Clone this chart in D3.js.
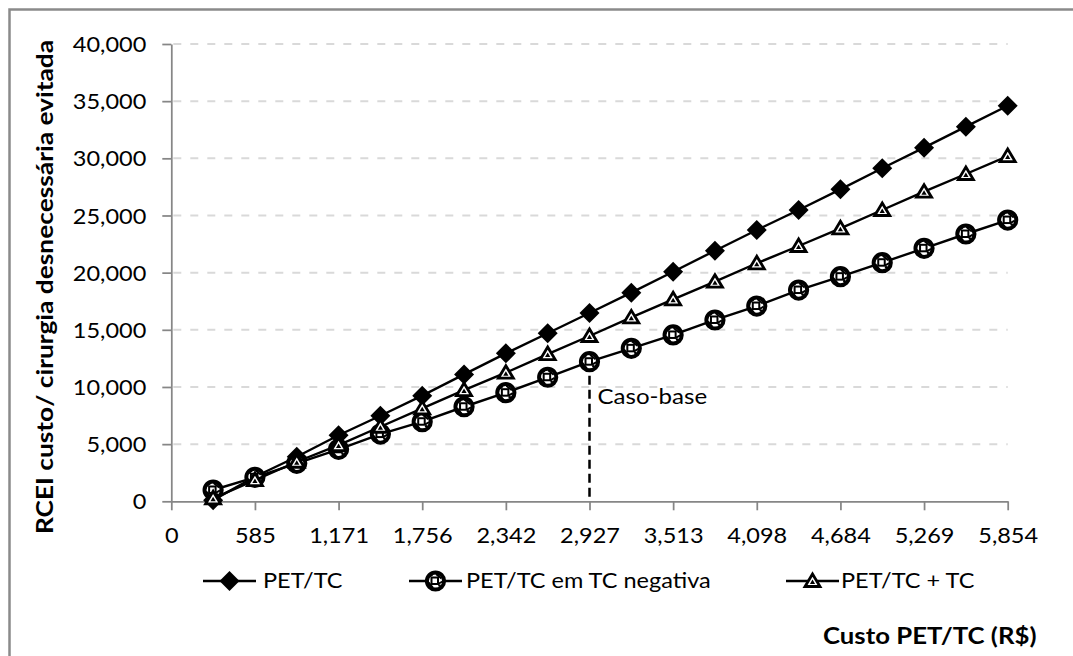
<!DOCTYPE html>
<html>
<head>
<meta charset="utf-8">
<script src="https://cdn.jsdelivr.net/npm/d3@7"></script>
<style>
  html, body { margin: 0; padding: 0; background: #fff; }
  svg { display: block; }
  text { font-family: Lato, "Open Sans", sans-serif; fill: #000; }
</style>
</head>
<body>
<svg id="chart" width="1073" height="656"></svg>
<script>
// Custo do PET/TC (R$) por ponto da análise de sensibilidade
const custos = [292.7, 585.4, 878.1, 1170.8, 1463.5, 1756.2, 2048.9, 2341.6, 2634.3, 2927,
                3219.7, 3512.4, 3805.1, 4097.8, 4390.5, 4683.2, 4975.9, 5268.6, 5561.3, 5854];

// RCEI custo / cirurgia desnecessária evitada
const petTc = [100, 2150, 3900, 5780, 7480, 9240, 11100, 12940, 14700, 16470,
               18250, 20080, 21920, 23730, 25480, 27290, 29130, 30930, 32770, 34600];
const petTcNegativa = [990, 2100, 3320, 4550, 5880, 6960, 8270, 9500, 10850, 12210,
                       13380, 14550, 15860, 17080, 18480, 19650, 20870, 22130, 23380, 24600];
const petTcMaisTc = [260, 1860, 3460, 4920, 6520, 8130, 9730, 11250, 12880, 14460,
                     16090, 17670, 19210, 20820, 22330, 23880, 25480, 27080, 28630, 30200];

const seriesNames = ["PET/TC", "PET/TC em TC negativa", "PET/TC + TC"];

const xTickValues = [0, 585.4, 1170.8, 1756.2, 2341.6, 2927, 3512.4, 4097.8, 4683.2, 5268.6, 5854];
const xTickLabels = ["0", "585", "1,171", "1,756", "2,342", "2,927", "3,513", "4,098", "4,684", "5,269", "5,854"];
const yTickValues = [0, 5000, 10000, 15000, 20000, 25000, 30000, 35000, 40000];

const casoBaseCusto = 2927;
const casoBaseIndex = custos.indexOf(casoBaseCusto);

const svg = d3.select("#chart");
const STRETCH = 1.12;

// widen glyphs horizontally around each text's own anchor x
function stretch(sel) {
  sel.each(function () {
    const t = d3.select(this);
    const x = +t.attr("x") || 0;
    t.attr("transform", `translate(${x},0) scale(${STRETCH},1) translate(${-x},0)`);
  });
}

// outer chart border (only left and top edges fall inside the frame)
svg.append("rect")
  .attr("x", 9.5).attr("y", 9.5)
  .attr("width", 1200).attr("height", 800)
  .attr("fill", "none").attr("stroke", "#8a8a8a").attr("stroke-width", 2.5);

const plot = { left: 171.3, right: 1007.7, top: 44, bottom: 501.3 };

const x = d3.scaleLinear().domain([0, 5854]).range([plot.left, plot.right]);
const y = d3.scaleLinear().domain([0, 40000]).range([plot.bottom, plot.top]);

// horizontal dashed gridlines
svg.append("g")
  .selectAll("line")
  .data(yTickValues.filter(v => v > 0))
  .join("line")
  .attr("x1", plot.left + 2).attr("x2", plot.right)
  .attr("y1", d => y(d)).attr("y2", d => y(d))
  .attr("stroke", "#d9d9d9").attr("stroke-width", 2)
  .attr("stroke-dasharray", "8,9");

// y axis
const yAxis = svg.append("g")
  .attr("transform", `translate(${plot.left},0)`)
  .call(d3.axisLeft(y).tickValues(yTickValues).tickSize(9).tickSizeOuter(0).tickPadding(16)
    .tickFormat(d3.format(",")));
yAxis.select(".domain").attr("stroke", "#868686").attr("stroke-width", 1.75);
yAxis.selectAll(".tick line").attr("stroke", "#868686").attr("stroke-width", 1.75);
yAxis.selectAll(".tick text")
  .attr("font-family", "Lato").attr("font-size", 21).attr("fill", "#000").attr("dy", "0.36em")
  .call(stretch);

// x axis
const xAxis = svg.append("g")
  .attr("transform", `translate(0,${plot.bottom})`)
  .call(d3.axisBottom(x).tickValues(xTickValues).tickSize(9).tickSizeOuter(0)
    .tickFormat((d, i) => xTickLabels[i]));
xAxis.select(".domain").attr("stroke", "#868686").attr("stroke-width", 1.75);
xAxis.selectAll(".tick line").attr("stroke", "#868686").attr("stroke-width", 1.75);
xAxis.selectAll(".tick text")
  .attr("font-family", "Lato").attr("font-size", 21).attr("fill", "#000")
  .attr("y", 42).attr("dy", 0)
  .call(stretch);

// base-case drop line
svg.append("line")
  .attr("x1", x(casoBaseCusto)).attr("x2", x(casoBaseCusto))
  .attr("y1", y(petTcNegativa[casoBaseIndex])).attr("y2", plot.bottom - 4)
  .attr("stroke", "#000").attr("stroke-width", 2.5)
  .attr("stroke-dasharray", "9,5");

svg.append("text")
  .attr("x", x(casoBaseCusto) + 8).attr("y", 404)
  .attr("font-size", 21.5)
  .text("Caso-base")
  .call(stretch);

// marker painters
function diamond(g) {
  g.append("path").attr("d", "M0,-10L10,0L0,10L-10,0Z").attr("fill", "#000");
}
function patternCircle(g) {
  g.append("circle").attr("r", 8.6).attr("fill", "#fff").attr("stroke", "#000").attr("stroke-width", 4);
  g.append("rect").attr("x", -4).attr("y", -3.5).attr("width", 6.5).attr("height", 6.5)
    .attr("fill", "none").attr("stroke", "#000").attr("stroke-width", 2);
  g.append("path").attr("d", "M0.5,-7L6,-2.5M-7,1.5L-2.5,7M2.5,3L7,0.5M-6.5,-4L-3,-6.5")
    .attr("stroke", "#000").attr("stroke-width", 2);
  g.append("circle").attr("cx", 4).attr("cy", 4.5).attr("r", 1.3).attr("fill", "#000");
}
function triangle(g) {
  g.append("path").attr("d", "M0,-7L7.5,5.5L-7.5,5.5Z")
    .attr("fill", "#fff").attr("stroke", "#000").attr("stroke-width", 2.8).attr("stroke-linejoin", "miter");
  g.append("path").attr("d", "M0,-1.5L2.6,3L-2.6,3Z").attr("fill", "#000");
}

const series = [
  { name: seriesNames[0], values: petTc, marker: diamond },
  { name: seriesNames[1], values: petTcNegativa, marker: patternCircle },
  { name: seriesNames[2], values: petTcMaisTc, marker: triangle }
];

const line = d3.line().x(d => x(d[0])).y(d => y(d[1]));

series.forEach(s => {
  const pts = custos.map((c, i) => [c, s.values[i]]);
  const g = svg.append("g");
  g.append("path")
    .attr("d", line(pts))
    .attr("fill", "none").attr("stroke", "#000").attr("stroke-width", 2.4);
  g.selectAll("g.pt")
    .data(pts)
    .join("g")
    .attr("class", "pt")
    .attr("transform", d => `translate(${x(d[0])},${y(d[1])})`)
    .each(function () { s.marker(d3.select(this)); });
});

// legend
const legendItems = [
  { lineX: 203, textX: 263 },
  { lineX: 409, textX: 466 },
  { lineX: 786, textX: 841 }
];
const legendY = 581;
series.forEach((s, i) => {
  const it = legendItems[i];
  const g = svg.append("g");
  g.append("line")
    .attr("x1", it.lineX).attr("x2", it.lineX + 53)
    .attr("y1", legendY).attr("y2", legendY)
    .attr("stroke", "#000").attr("stroke-width", 2.4);
  const m = g.append("g").attr("transform", `translate(${it.lineX + 26.5},${legendY})`);
  s.marker(m);
  g.append("text")
    .attr("x", it.textX).attr("y", legendY + 7.5)
    .attr("font-size", 21)
    .text(s.name)
    .call(stretch);
});

// axis titles
svg.append("text")
  .attr("x", 823).attr("y", 644)
  .attr("font-size", 23).attr("font-weight", "bold")
  .text("Custo PET/TC (R$)")
  .call(stretch);

svg.append("g")
  .attr("transform", `translate(53,287) rotate(-90) scale(${STRETCH},1)`)
  .append("text")
  .attr("text-anchor", "middle")
  .attr("font-size", 23.5).attr("font-weight", "bold")
  .text("RCEI custo/ cirurgia desnecessária evitada");
</script>
</body>
</html>
